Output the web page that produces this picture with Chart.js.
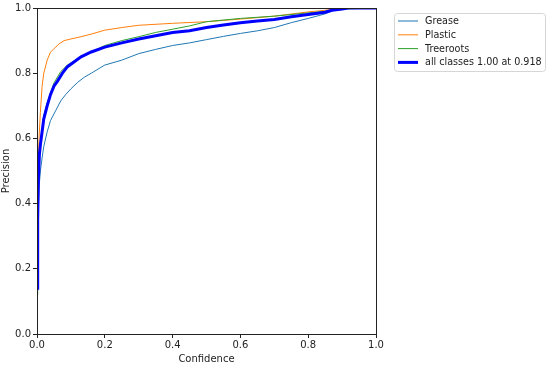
<!DOCTYPE html>
<html>
<head>
<meta charset="utf-8">
<script src="https://cdn.jsdelivr.net/npm/chart.js@4"></script>
<style>
  html, body { margin: 0; padding: 0; background: #fff; }
  #wrap { width: 550px; height: 365px; }
</style>
</head>
<body>
<div id="wrap"><canvas id="pcChart" width="550" height="365"></canvas></div>
<script>
// confidence / precision values
var greaseX = [0, 0.003, 0.006, 0.01, 0.015, 0.02, 0.03, 0.04, 0.055, 0.07, 0.085, 0.1, 0.12, 0.14, 0.16, 0.2, 0.25, 0.3, 0.35, 0.4, 0.45, 0.5, 0.55, 0.6, 0.65, 0.7, 0.75, 0.8, 0.85, 0.88, 0.9, 1.0];
var greaseY = [0.12, 0.35, 0.45, 0.5, 0.54, 0.575, 0.62, 0.655, 0.685, 0.715, 0.735, 0.752, 0.772, 0.788, 0.8, 0.825, 0.84, 0.86, 0.873, 0.885, 0.893, 0.903, 0.913, 0.922, 0.93, 0.94, 0.955, 0.968, 0.982, 0.995, 1.0, 1.0];

var plasticX = [0, 0.003, 0.006, 0.01, 0.015, 0.02, 0.03, 0.04, 0.05, 0.065, 0.08, 0.1, 0.13, 0.16, 0.2, 0.25, 0.3, 0.4, 0.5, 0.6, 0.7, 0.8, 0.85, 0.88, 0.9, 1.0];
var plasticY = [0.15, 0.5, 0.6, 0.68, 0.76, 0.8, 0.84, 0.865, 0.875, 0.89, 0.9, 0.905, 0.912, 0.92, 0.932, 0.94, 0.947, 0.953, 0.958, 0.966, 0.975, 0.988, 0.993, 0.997, 1.0, 1.0];

var treerootsX = [0, 0.002, 0.005, 0.01, 0.02, 0.03, 0.05, 0.07, 0.09, 0.12, 0.15, 0.2, 0.25, 0.3, 0.35, 0.4, 0.45, 0.5, 0.55, 0.6, 0.7, 0.8, 0.85, 0.9, 1.0];
var treerootsY = [0.12, 0.38, 0.52, 0.59, 0.67, 0.71, 0.77, 0.805, 0.825, 0.845, 0.86, 0.885, 0.9, 0.912, 0.925, 0.935, 0.945, 0.958, 0.963, 0.968, 0.975, 0.985, 0.99, 0.997, 1.0];

var allX = [0, 0.002, 0.004, 0.007, 0.01, 0.015, 0.02, 0.03, 0.04, 0.05, 0.06, 0.075, 0.09, 0.11, 0.13, 0.16, 0.2, 0.25, 0.3, 0.35, 0.4, 0.45, 0.5, 0.55, 0.6, 0.65, 0.7, 0.75, 0.8, 0.85, 0.87, 0.9, 0.918, 1.0];
var allY = [0.14, 0.35, 0.47, 0.55, 0.58, 0.62, 0.66, 0.7, 0.735, 0.76, 0.775, 0.8, 0.82, 0.835, 0.85, 0.865, 0.88, 0.893, 0.905, 0.915, 0.925, 0.93, 0.94, 0.948, 0.955, 0.96, 0.965, 0.973, 0.98, 0.987, 0.993, 0.997, 1.0, 1.0];

var seriesNames = ['Grease', 'Plastic', 'Treeroots', 'all classes 1.00 at 0.918'];
var tickValues = [0, 0.2, 0.4, 0.6, 0.8, 1.0];

function pts(xs, ys) {
    return xs.map(function(x, i) { return { x: x, y: ys[i] }; });
}

var FONT = 'DejaVu Sans';

// frame round the plot + matplotlib-like legend
var framePlugin = {
    id: 'frame',
    afterDatasetsDraw: function(chart) {
        var c = chart.ctx, a = chart.chartArea;
        c.save();
        c.strokeStyle = '#222';
        c.lineWidth = 1;
        c.strokeRect(Math.round(a.left) + 0.5, Math.round(a.top) + 0.5, Math.round(a.right - a.left), Math.round(a.bottom - a.top));

        // legend
        var bx = 394.5, by = 13.5, bw = 151, bh = 58, r = 3;
        c.beginPath();
        c.moveTo(bx + r, by);
        c.arcTo(bx + bw, by, bx + bw, by + bh, r);
        c.arcTo(bx + bw, by + bh, bx, by + bh, r);
        c.arcTo(bx, by + bh, bx, by, r);
        c.arcTo(bx, by, bx + bw, by, r);
        c.closePath();
        c.fillStyle = 'rgba(255,255,255,0.8)';
        c.fill();
        c.strokeStyle = '#d6d6d6';
        c.stroke();
        c.font = '9.6px "' + FONT + '"';
        c.textBaseline = 'middle';
        chart.data.datasets.forEach(function(ds, i) {
            var y = 21 + i * 13.8;
            c.strokeStyle = ds.borderColor;
            c.lineWidth = ds.borderWidth;
            c.beginPath();
            c.moveTo(398, y);
            c.lineTo(418, y);
            c.stroke();
            c.fillStyle = '#222';
            c.fillText(ds.label, 425, y + 0.5);
        });
        c.restore();
    }
};

var ctx = document.getElementById('pcChart').getContext('2d');
var pcChart = new Chart(ctx, {
    type: 'line',
    data: {
        datasets: [
            { label: seriesNames[0], data: pts(greaseX, greaseY), borderColor: '#1f77b4', borderWidth: 1, order: 4 },
            { label: seriesNames[1], data: pts(plasticX, plasticY), borderColor: '#ff7f0e', borderWidth: 1, order: 3 },
            { label: seriesNames[2], data: pts(treerootsX, treerootsY), borderColor: '#2ca02c', borderWidth: 1, order: 2 },
            { label: seriesNames[3], data: pts(allX, allY), borderColor: '#0000ff', borderWidth: 3, order: 1 }
        ]
    },
    options: {
        responsive: false,
        animation: false,
        layout: { padding: { top: 8, right: 174, left: 0, bottom: 0 } },
        elements: { point: { radius: 0 }, line: { tension: 0, fill: false } },
        scales: {
            x: {
                type: 'linear', min: 0, max: 1,
                afterBuildTicks: function(s) { s.ticks = tickValues.map(function(v) { return { value: v }; }); },
                afterFit: function(s) { s.height = 31; },
                grid: { drawOnChartArea: false, drawTicks: true, tickLength: 4, color: '#222' },
                border: { color: '#222' },
                ticks: { color: '#222', padding: 1, maxRotation: 0, font: { family: FONT, size: 10 },
                         callback: function(v) { return v.toFixed(1); } },
                title: { display: true, text: 'Confidence', color: '#222', padding: 0, font: { family: FONT, size: 10 } }
            },
            y: {
                type: 'linear', min: 0, max: 1,
                afterBuildTicks: function(s) { s.ticks = tickValues.map(function(v) { return { value: v }; }); },
                afterFit: function(s) { s.width = 37; },
                grid: { drawOnChartArea: false, drawTicks: true, tickLength: 4, color: '#222' },
                border: { color: '#222' },
                ticks: { color: '#222', padding: 2, font: { family: FONT, size: 10 },
                         callback: function(v) { return v.toFixed(1); } },
                title: { display: true, text: 'Precision', color: '#222', padding: 0, font: { family: FONT, size: 10 } }
            }
        },
        plugins: {
            legend: { display: false },
            tooltip: { enabled: false }
        }
    },
    plugins: [framePlugin]
});
</script>
</body>
</html>
